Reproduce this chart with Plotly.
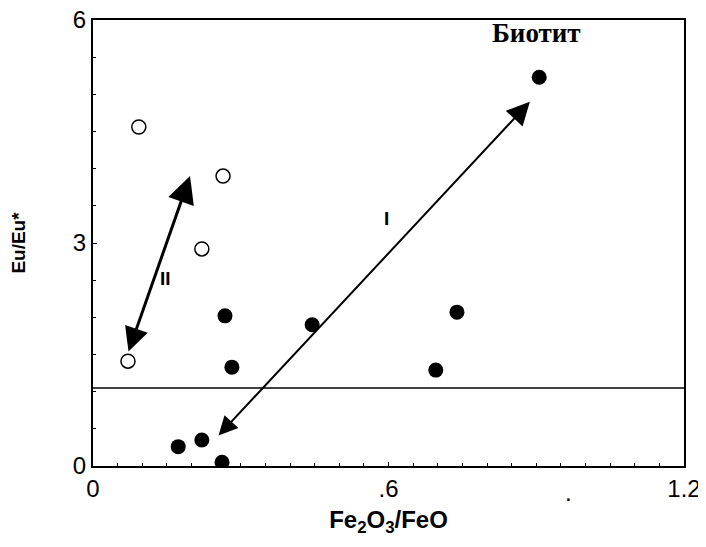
import plotly.graph_objects as go

# Filled circles
filled_x = [0.906, 0.739, 0.696, 0.445, 0.268, 0.282, 0.173, 0.221, 0.262]
filled_y = [5.23, 2.07, 1.29, 1.90, 2.02, 1.33, 0.26, 0.35, 0.05]

# Open circles
open_x = [0.093, 0.264, 0.221, 0.071]
open_y = [4.56, 3.90, 2.92, 1.41]

# Reference line Eu/Eu*
ref_level = 1.05

# Trend arrows (start -> end) and labels
arrow_names = ["I", "II"]
arrow_x0 = [0.252, 0.071]
arrow_y0 = [0.39, 1.52]
arrow_x1 = [0.887, 0.197]
arrow_y1 = [4.90, 3.90]
label_x = [0.596, 0.147]
label_y = [3.33, 2.52]

x_tickvals = [0, 0.6, 1.2]
x_ticktext = ["0", ".6", "1.2"]
y_tickvals = [0, 3, 6]
y_ticktext = ["0", "3", "6"]

font_sans = "Liberation Sans, Arial, sans-serif"

fig = go.Figure()

fig.add_trace(go.Scatter(
    x=[0, 1.2], y=[ref_level, ref_level], mode="lines",
    line=dict(color="black", width=1.5), hoverinfo="skip", showlegend=False))

fig.add_trace(go.Scatter(
    x=open_x, y=open_y, mode="markers",
    marker=dict(size=14, color="white", line=dict(color="black", width=1.5)),
    showlegend=False))

fig.add_trace(go.Scatter(
    x=filled_x, y=filled_y, mode="markers",
    marker=dict(size=15, color="black", line=dict(color="black", width=0)),
    showlegend=False))

widths = [2, 3]
end_sizes = [2.3, 1.8]
start_sizes = [1.9, 1.6]
for i, name in enumerate(arrow_names):
    fig.add_annotation(
        x=arrow_x1[i], y=arrow_y1[i], ax=arrow_x0[i], ay=arrow_y0[i],
        xref="x", yref="y", axref="x", ayref="y",
        text="", showarrow=True, arrowside="end+start",
        arrowhead=2, startarrowhead=2,
        arrowsize=end_sizes[i], startarrowsize=start_sizes[i],
        arrowwidth=widths[i], arrowcolor="black")
    fig.add_annotation(
        x=label_x[i], y=label_y[i], xref="x", yref="y", text="<b>" + name + "</b>",
        showarrow=False, font=dict(family=font_sans, size=19, color="black"))

fig.add_annotation(
    x=0.9, y=5.82, xref="x", yref="y", text="<b>Биотит</b>", showarrow=False,
    font=dict(family="Liberation Serif, Times New Roman, serif", size=27, color="black"))

# stray dot tick label seen in the original
fig.add_annotation(
    x=0.965, y=0, xref="x", yref="y", yshift=-26, text=".", showarrow=False,
    font=dict(family=font_sans, size=24, color="black"))

fig.update_xaxes(
    range=[0, 1.2], tickvals=x_tickvals, ticktext=x_ticktext, automargin=False,
    ticklabeloverflow="allow",
    showgrid=False, zeroline=False, showline=True, linecolor="black", linewidth=2,
    mirror=True, ticks="inside", ticklen=4, tickcolor="black",
    minor=dict(dtick=0.05, ticks="inside", ticklen=3, tickcolor="black"),
    tickfont=dict(family=font_sans, size=24, color="black"),
    title=dict(text="<b>Fe<sub>2</sub>O<sub>3</sub>/FeO</b>", standoff=10,
               font=dict(family=font_sans, size=24, color="black")))

fig.update_yaxes(
    range=[0, 6], tickvals=y_tickvals, ticktext=y_ticktext, automargin=False,
    ticklabeloverflow="allow",
    showgrid=False, zeroline=False, showline=True, linecolor="black", linewidth=2,
    mirror=True, ticks="inside", ticklen=4, tickcolor="black",
    minor=dict(dtick=0.5, ticks="inside", ticklen=3, tickcolor="black"),
    tickfont=dict(family=font_sans, size=24, color="black"),
    title=dict(text="<b>Eu/Eu*</b>", standoff=42,
               font=dict(family=font_sans, size=19, color="black")))

# page body adds an 8px offset, so the figure is sized to fit the window
fig.update_layout(
    width=698, height=539,
    margin=dict(l=85, r=22, t=12, b=81),
    plot_bgcolor="white", paper_bgcolor="white",
    showlegend=False)

fig.write_html("out.html")
